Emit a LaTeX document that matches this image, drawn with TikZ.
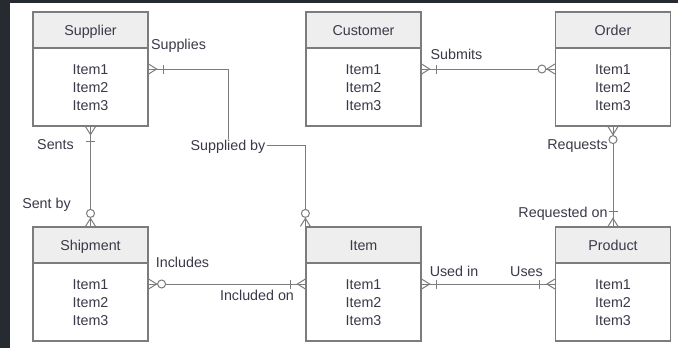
\documentclass[tikz,border=0pt]{standalone}
\usepackage{fontspec}
\setmainfont{Liberation Sans}
\usepackage{xcolor}
\usetikzlibrary{positioning}

\definecolor{framedark}{HTML}{262A31}
\definecolor{linegray}{HTML}{7C7C7C}
\definecolor{headgray}{HTML}{EEEEEE}
\definecolor{textgray}{HTML}{3A3948}

\tikzset{
  entity/.style={draw=linegray, line width=1.2pt, minimum width=115pt, minimum height=114pt, inner sep=0pt},
  head/.style={draw=linegray, fill=headgray, line width=1.2pt, minimum width=115pt, minimum height=36pt,
               anchor=north, inner sep=0pt, text height=10.3pt, text depth=0pt},
  items/.style={minimum width=115pt, minimum height=78pt, anchor=south, align=center, inner sep=0pt},
  rel/.style={inner sep=1pt, text height=10.3pt, text depth=0pt},
  link/.style={draw=linegray, line width=1pt},
  onemany/.pic={
    \draw[link] (0,-5) -- (8,0) -- (0,5);
    \draw[link] (15,-4.5) -- (15,4.5);
  },
  zeromany/.pic={
    \draw[link] (0,-5) -- (8,0) -- (0,5);
    \draw[link, fill=white] (13,0) circle (4pt);
  }
}

\begin{document}
\begin{tikzpicture}[x=1pt, y=-1pt, every node/.style={text=textgray, font=\fontsize{14.3}{18}\selectfont}]
  % Frame of the window
  \useasboundingbox (0,0) rectangle (678,348);
  \fill[framedark] (0,0) rectangle (678,348);
  \fill[white] (10,3) rectangle (678,348);

  % Entities: outline, header and attributes
  \node[entity] (supplier) at (90.5,69) {};
  \node[head] (supplier-head) at (supplier.north) {Supplier};
  \node[items] (supplier-items) at (supplier.south) {Item1\\Item2\\Item3};

  \node[entity] (customer) at (363.5,69) {};
  \node[head] (customer-head) at (customer.north) {Customer};
  \node[items] (customer-items) at (customer.south) {Item1\\Item2\\Item3};

  \node[entity] (order) at (613,69) {};
  \node[head] (order-head) at (order.north) {Order};
  \node[items] (order-items) at (order.south) {Item1\\Item2\\Item3};

  \node[entity] (shipment) at (90.5,284) {};
  \node[head] (shipment-head) at (shipment.north) {Shipment};
  \node[items] (shipment-items) at (shipment.south) {Item1\\Item2\\Item3};

  \node[entity] (item) at (363.5,284) {};
  \node[head] (item-head) at (item.north) {Item};
  \node[items] (item-items) at (item.south) {Item1\\Item2\\Item3};

  \node[entity] (product) at (613,284) {};
  \node[head] (product-head) at (product.north) {Product};
  \node[items] (product-items) at (product.south) {Item1\\Item2\\Item3};

  % Relationship labels
  \node[rel] (supplies) at (178.5,44) {Supplies};
  \node[rel] (suppliedby) at (228,145.5) {Supplied by};
  \node[rel] (sents) at (55.5,144) {Sents};
  \node[rel] (sentby) at (46.5,203.5) {Sent by};
  \node[rel] (submits) at (456.5,54.5) {Submits};
  \node[rel] (requests) at (577.5,144.5) {Requests};
  \node[rel] (requestedon) at (563,212.5) {Requested on};
  \node[rel] (includes) at (182.5,262.5) {Includes};
  \node[rel] (includedon) at (257,295.5) {Included on};
  \node[rel] (usedin) at (454,271) {Used in};
  \node[rel] (uses) at (526.5,271) {Uses};

  % Connectors
  \draw[link] (supplier.east) -| (suppliedby.north);
  \draw[link] (suppliedby.east) -| (item.north west);
  \draw[link] (customer.east) -- (order.west);
  \draw[link] (order.south) -- (product.north);
  \draw[link] (supplier.south) -- (shipment.north);
  \draw[link] (shipment.east) -- (item.west);
  \draw[link] (item.east) -- (product.west);

  % Crow's foot ends
  \pic at (supplier.east) {onemany};
  \pic[rotate=90] at (item.north west) {zeromany};
  \pic at (customer.east) {onemany};
  \pic[rotate=180] at (order.west) {zeromany};
  \pic[rotate=-90] at (order.south) {zeromany};
  \pic[rotate=90] at (product.north) {onemany};
  \pic[rotate=-90] at (supplier.south) {onemany};
  \pic[rotate=90] at (shipment.north) {zeromany};
  \pic at (shipment.east) {zeromany};
  \pic[rotate=180] at (item.west) {onemany};
  \pic at (item.east) {onemany};
  \pic[rotate=180] at (product.west) {onemany};
\end{tikzpicture}
\end{document}
